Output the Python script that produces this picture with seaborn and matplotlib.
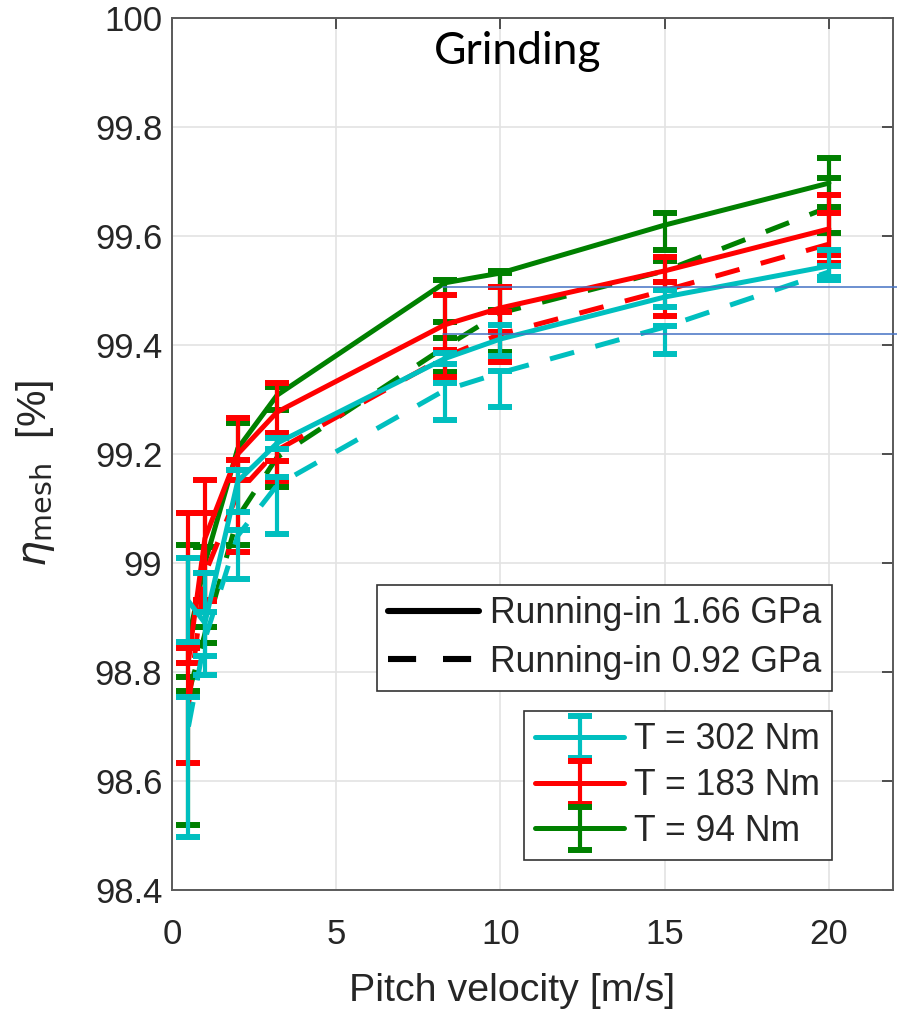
import matplotlib
matplotlib.use("Agg")
import matplotlib.pyplot as plt
from matplotlib.lines import Line2D
from matplotlib.container import ErrorbarContainer
from matplotlib.legend_handler import HandlerErrorbar
import numpy as np
import pandas as pd
import seaborn as sns

# Pitch velocities [m/s]
velocity = [0.5, 1.0, 2.0, 3.2, 8.3, 10.0, 15.0, 20.0]

# Mesh efficiency [%] and error-bar limits, running-in 1.66 GPa (solid)
eta_94_166 = [98.86, 99.00, 99.21, 99.308, 99.514, 99.532, 99.620, 99.697]
hi_94_166 = [99.033, 99.029, 99.257, 99.323, 99.520, 99.536, 99.642, 99.743]
lo_94_166 = [98.791, 98.883, 99.170, 99.280, 99.442, 99.464, 99.575, 99.653]

eta_183_166 = [98.82, 99.045, 99.20, 99.277, 99.437, 99.468, 99.536, 99.613]
hi_183_166 = [99.092, 99.153, 99.266, 99.330, 99.492, 99.506, 99.561, 99.675]
lo_183_166 = [98.817, 98.932, 99.152, 99.187, 99.387, 99.424, 99.501, 99.565]

eta_302_166 = [98.93, 98.89, 99.15, 99.220, 99.375, 99.411, 99.488, 99.545]
hi_302_166 = [99.009, 98.982, 99.170, 99.230, 99.385, 99.437, 99.500, 99.574]
lo_302_166 = [98.855, 98.794, 99.094, 99.210, 99.365, 99.380, 99.470, 99.519]

# Running-in 0.92 GPa (dashed)
eta_94_092 = [98.76, 98.87, 99.084, 99.194, 99.396, 99.459, 99.536, 99.653]
hi_94_092 = [98.765, 98.883, 99.152, 99.231, 99.413, 99.532, 99.554, 99.706]
lo_94_092 = [98.519, 98.853, 99.033, 99.139, 99.350, 99.387, 99.500, 99.606]

eta_183_092 = [98.74, 98.98, 99.128, 99.207, 99.378, 99.420, 99.500, 99.585]
hi_183_092 = [98.844, 99.092, 99.189, 99.239, 99.390, 99.460, 99.515, 99.642]
lo_183_092 = [98.633, 98.930, 99.020, 99.150, 99.341, 99.369, 99.453, 99.550]

eta_302_092 = [98.70, 98.86, 99.050, 99.143, 99.317, 99.349, 99.433, 99.534]
hi_302_092 = [98.754, 98.910, 99.060, 99.158, 99.330, 99.352, 99.435, 99.545]
lo_302_092 = [98.497, 98.830, 98.970, 99.053, 99.262, 99.286, 99.384, 99.525]

# Reference levels marked on the right
ref_levels = [99.506, 99.42]
ref_start = 8.25

torque_labels = ["T = 302 Nm", "T = 183 Nm", "T = 94 Nm"]
pressure_labels = ["Running-in 1.66 GPa", "Running-in 0.92 GPa"]
x_ticks = [0, 5, 10, 15, 20]
y_ticks = [98.4, 98.6, 98.8, 99.0, 99.2, 99.4, 99.6, 99.8, 100.0]
y_ticklabels = ["98.4", "98.6", "98.8", "99", "99.2", "99.4", "99.6", "99.8", "100"]

sns.set_theme(style="white")
plt.rcParams["font.family"] = ["Liberation Sans", "DejaVu Sans"]
plt.rcParams["mathtext.fontset"] = "dejavusans"

fig = plt.figure(figsize=(8.97, 10.09), dpi=100)
ax = fig.add_axes([0.1918, 0.1179, 0.8037, 0.8643])

colors = {"302": "#00BFBF", "183": "#FF0000", "94": "#008000"}
dash = (0, (5.0, 4.4))
lw = 3.6
bar_kw = dict(elinewidth=3.0, capsize=8.7, capthick=4.3)

series = [
    ("94", "solid", eta_94_166, lo_94_166, hi_94_166),
    ("94", "dash", eta_94_092, lo_94_092, hi_94_092),
    ("183", "solid", eta_183_166, lo_183_166, hi_183_166),
    ("183", "dash", eta_183_092, lo_183_092, hi_183_092),
    ("302", "solid", eta_302_166, lo_302_166, hi_302_166),
    ("302", "dash", eta_302_092, lo_302_092, hi_302_092),
]

z = 3
for torque, style, eta, lo, hi in series:
    c = colors[torque]
    df = pd.DataFrame({"v": velocity, "eta": eta})
    sns.lineplot(data=df, x="v", y="eta", ax=ax, color=c, lw=lw,
                 linestyle="-" if style == "solid" else dash,
                 estimator=None, errorbar=None, zorder=z)
    eta_a = np.array(eta)
    yerr = [eta_a - np.array(lo), np.array(hi) - eta_a]
    ax.errorbar(velocity, eta, yerr=yerr, fmt="none", ecolor=c,
                zorder=z + 0.5, **bar_kw)
    z += 1

# legend keys for the torque levels: line with an error bar
torque_keys = []
for torque in ["302", "183", "94"]:
    key = ax.errorbar([np.nan], [np.nan], yerr=[[0.1], [0.1]], fmt="-",
                      color=colors[torque], lw=lw, **bar_kw)
    torque_keys.append(key)

for lvl in ref_levels:
    ax.plot([ref_start, 22.4], [lvl, lvl], color="#4472C4", lw=1.1,
            clip_on=False, zorder=10)

ax.set_xlim(0, 21.95)
ax.set_ylim(98.4, 100.0)
ax.set_xticks(x_ticks)
ax.set_yticks(y_ticks)
ax.set_yticklabels(y_ticklabels)
ax.grid(True, color="#E3E3E3", lw=1.2)
ax.set_axisbelow(True)
for sp in ax.spines.values():
    sp.set_color("#5A5A5A")
    sp.set_linewidth(1.4)
ax.tick_params(axis="both", which="both", direction="in", length=8, width=1.2,
               color="#333333", top=True, right=True, labelsize=25,
               labelcolor="#262626")
ax.tick_params(axis="x", pad=20)
ax.tick_params(axis="y", pad=7)

ax.set_xlabel("Pitch velocity [m/s]", fontsize=28.4, color="#262626")
ax.xaxis.set_label_coords(0.4716, -0.095)
ax.set_ylabel(r"$\eta_{\mathrm{mesh}}$  [%]", fontsize=29.5, color="#262626")
ax.yaxis.set_label_coords(-0.16, 0.478)

ax.text(0.479, 0.962, "Grinding", transform=ax.transAxes, ha="center",
        va="center", fontsize=32, family=["Lato", "DejaVu Sans"], color="black")

leg1 = ax.legend(
    [Line2D([], [], color="black", lw=4.4, linestyle="-"),
     Line2D([], [], color="black", lw=4.4, linestyle=(0, (4.6, 4.4)))],
    pressure_labels, loc="upper left", bbox_to_anchor=(0.2843, 0.3498),
    borderaxespad=0, fontsize=25.6, frameon=True, fancybox=False,
    edgecolor="#333333", framealpha=1, handlelength=2.55, handletextpad=0.3,
    borderpad=0.32, labelspacing=0.38)
leg1.get_frame().set_linewidth(1.2)
ax.add_artist(leg1)

leg2 = ax.legend(
    torque_keys, torque_labels, loc="upper left",
    bbox_to_anchor=(0.4882, 0.2053), borderaxespad=0, fontsize=25.6,
    frameon=True, fancybox=False, edgecolor="#333333", framealpha=1,
    handlelength=2.5, handletextpad=0.28, borderpad=0.32, labelspacing=0.3,
    handler_map={ErrorbarContainer: HandlerErrorbar(xerr_size=0.6)})
leg2.get_frame().set_linewidth(1.2)

fig.savefig("out.png", dpi=100)
